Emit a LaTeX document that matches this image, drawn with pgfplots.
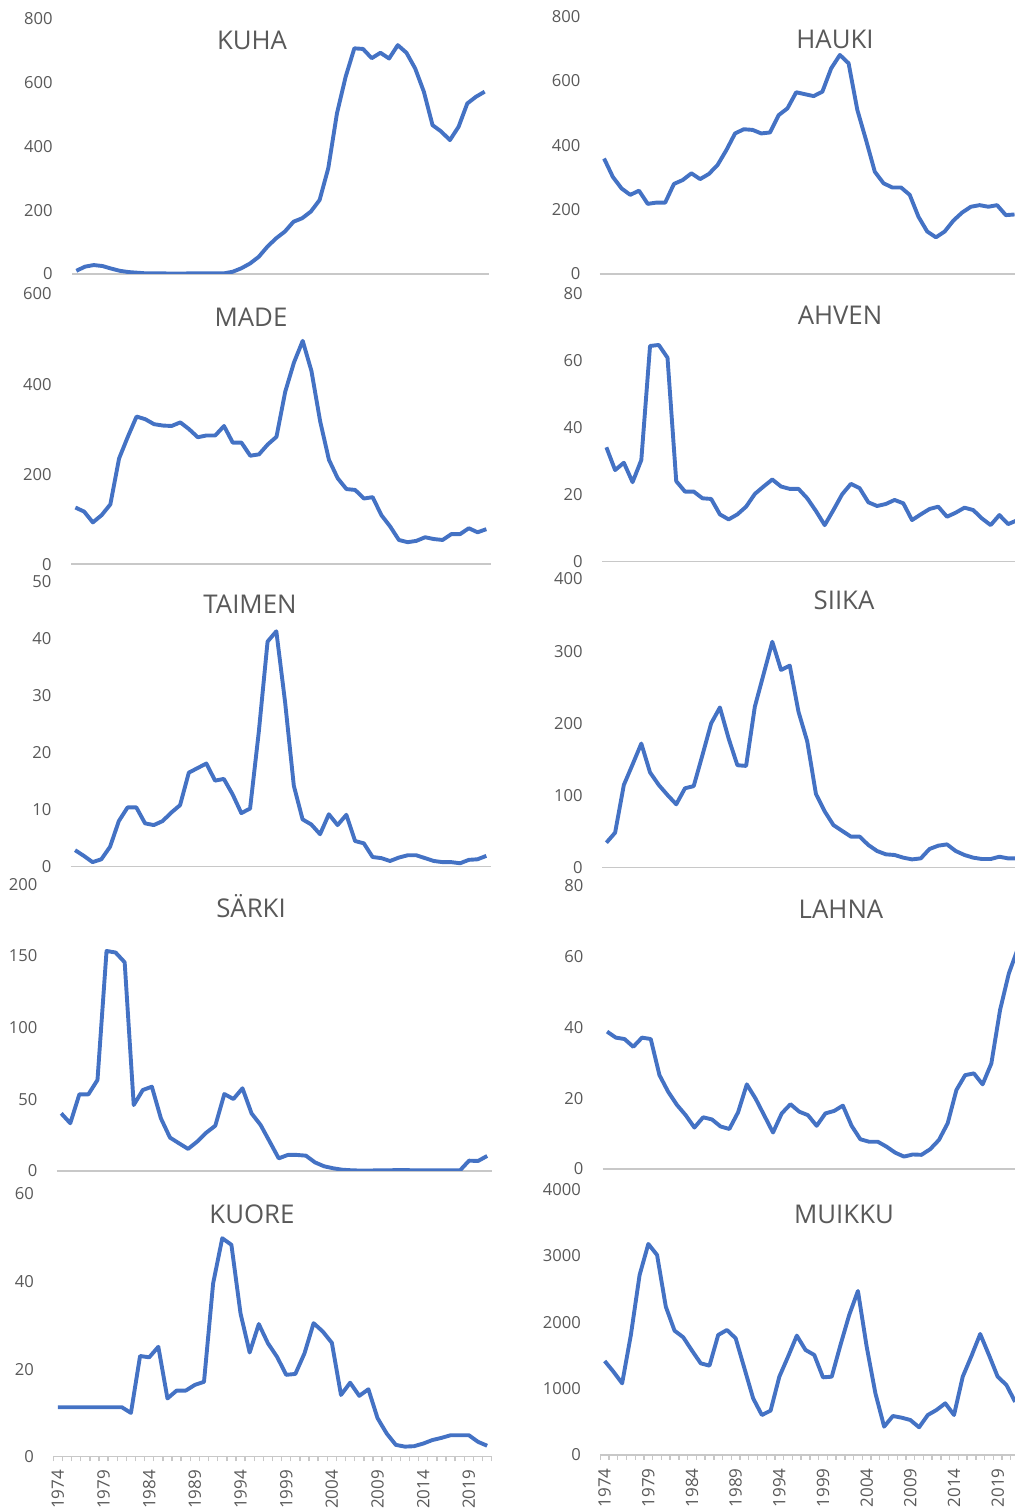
\documentclass[border=0pt]{standalone}
\usepackage{fontspec}
\setmainfont{Open Sans}
\usepackage{pgfplots}
\usepackage{pgfplotstable}
\pgfplotsset{compat=1.18}

\definecolor{fishblue}{HTML}{4472C4}
\definecolor{txtgray}{HTML}{595959}
\definecolor{axisgray}{HTML}{C8C8C8}

\newcommand\ticksize{\fontsize{8.3}{9.5}\selectfont}
\newcommand\yearsize{\fontsize{8.5}{9.5}\selectfont}
\newcommand\titlesize{\fontsize{12.9}{14}\selectfont}

% catch per year, 1974-2021
\pgfplotstableread{
year KUHA HAUKI MADE AHVEN TAIMEN SIIKA SARKI LAHNA KUORE MUIKKU
1974 10  359 126 34.1 2.9  34.6  40.2  38.8 11.3 1415
1975 23  302 117 27.3 1.9  48.5  33.3  37.1 11.3 1255
1976 28  266 93  29.5 0.8  114.6 53.5  36.7 11.3 1079
1977 25  246 109 23.7 1.3  143   53.5  34.5 11.3 1807
1978 17  259 133 30.3 3.5  172   63.5  37.1 11.3 2710
1979 10  218 235 64.3 8.0  132   153.5 36.7 11.3 3177
1980 6   222 283 64.6 10.4 114.6 152.4 26.5 11.3 3011
1981 4   222 328 60.8 10.4 100.7 145.6 21.8 11.3 2233
1982 2   280 322 24.0 7.6  87.8  46    18.1 10.0 1872
1983 2   292 311 20.9 7.3  110   56.5  15.2 23.0 1772
1984 2   313 308 20.9 8.0  113   58.8  11.7 22.7 1571
1985 1   295 307 18.9 9.5  156   36.7  14.6 25.1 1380
1986 1   311 315 18.7 10.8 200   23.3  14.0 13.3 1345
1987 2   339 300 14.1 16.5 222   19.3  12.0 15.1 1807
1988 2   385 282 12.6 17.3 179   15.4  11.3 15.1 1882
1989 2   437 286 14.1 18.1 142   20.5  16.0 16.4 1757
1990 2   450 286 16.4 15.1 141   26.7  23.9 17.1 1305
1991 2   448 307 20.2 15.4 223   31.6  19.9 39.6 853
1992 7   437 270 22.4 12.7 268   53.7  15.1 49.9 602
1993 18  440 270 24.5 9.4  313   50.2  10.3 48.4 668
1994 33  494 241 22.4 10.2 274   57.7  15.7 32.7 1179
1995 54  515 244 21.7 23.7 280   40.2  18.3 23.8 1481
1996 86  565 266 21.7 39.5 216   32.1  16.2 30.3 1797
1997 112 559 283 18.9 41.3 175   20.5  15.2 25.9 1581
1998 133 553 383 15.1 28.9 102   8.8   12.2 22.8 1506
1999 164 567 448 10.9 14.2 78    11.2  15.7 18.7 1169
2000 175 639 496 15.4 8.3  59    11.2  16.4 18.9 1179
2001 196 681 429 20.1 7.4  51    10.7  17.9 23.6 1656
2002 232 655 317 23.2 5.7  43    6.0   12.2 30.5 2108
2003 332 510 232 21.9 9.2  43    3.3   8.4  28.6 2469
2004 504 416 191 17.7 7.3  31.4  1.9   7.7  26.0 1631
2005 619 318 167 16.6 9.1  23.1  0.9   7.7  14.1 929
2006 708 282 165 17.2 4.5  18.5  0.5   6.3  16.9 427
2007 706 269 146 18.4 4.1  17.6  0.3   4.6  13.9 587
2008 677 269 149 17.4 1.7  13.9  0.3   3.5  15.4 562
2009 694 246 109 12.4 1.5  11.5  0.5   4.1  8.8  527
2010 676 178 84  14.1 1.0  12.9  0.5   4.0  5.3  417
2011 718 132 54  15.7 1.6  25.9  0.6   5.6  2.7  602
2012 694 114 49  16.4 2.0  30.5  0.6   8.2  2.3  678
2013 645 132 52  13.4 2.0  32.3  0.5   12.9 2.4  778
2014 572 166 60  14.6 1.5  23.1  0.5   22.3 3.0  602
2015 467 191 56  16.1 1.0  17.6  0.4   26.5 3.8  1179
2016 447 209 54  15.4 0.8  13.9  0.4   27.0 4.3  1491
2017 420 214 67  12.9 0.8  12    0.4   23.9 4.9  1822
2018 462 209 67  10.9 0.6  12    0.4   29.8 4.9  1506
2019 535 214 80  13.9 1.2  15.2  7.2   44.9 4.9  1179
2020 556 183 71  11.2 1.3  12.9  7.0   55.2 3.4  1054
2021 572 185 78  12.3 1.9  12.9  10.5  62   2.5  800
}\catch

\pgfplotsset{
  fishpanel/.style={
    scale only axis, anchor=south west,
    xmin=1973.5, xmax=2021.5, ymin=0,
    axis x line*=bottom, axis y line*=left,
    y axis line style={draw=none},
    x axis line style={-, draw=axisgray, line width=0.8pt},
    xtick=\empty,
    minor xtick={1973.5,1974.5,...,2021.5},
    tick align=outside,
    major tick length=0pt, minor tick length=2.4pt,
    minor tick style={draw=axisgray, line width=0.7pt},
    ytick style={draw=none},
    yticklabel style={font=\ticksize, text=txtgray, inner sep=0pt},
    yticklabel shift=9.5pt,
    /pgf/number format/1000 sep={},
    /pgf/number format/assume math mode=true,
    scaled y ticks=false,
  },
  yearaxis/.style={
    xtick={1974,1979,...,2019},
    xticklabel style={rotate=90, anchor=east, font=\yearsize, text=txtgray, inner sep=0pt},
    xticklabel shift=6.5pt,
  },
  fishline/.style={fishblue, line width=1.95pt, line join=round, no markers},
}

\begin{document}
\begin{tikzpicture}
\useasboundingbox (0,0) rectangle (507pt,754.5pt);

% left column
\begin{axis}[fishpanel, at={(36pt,617.5pt)}, width=208.5pt, height=127.5pt,
  ymax=800, ytick={0,200,...,800}]
  \addplot[fishline] table[x=year, y=KUHA] {\catch};
\end{axis}
\begin{axis}[fishpanel, at={(35.5pt,472.35pt)}, width=209.85pt, height=135.15pt,
  ymax=600, ytick={0,200,400,600}]
  \addplot[fishline] table[x=year, y=MADE] {\catch};
\end{axis}
\begin{axis}[fishpanel, at={(35.35pt,321.15pt)}, width=210pt, height=142.5pt,
  ymax=50, ytick={0,10,...,50}]
  \addplot[fishline] table[x=year, y=TAIMEN] {\catch};
\end{axis}
\begin{axis}[fishpanel, at={(28.35pt,169pt)}, width=217.5pt, height=143.35pt,
  ymax=200, ytick={0,50,...,200}]
  \addplot[fishline] table[x=year, y=SARKI] {\catch};
\end{axis}
\begin{axis}[fishpanel, yearaxis, at={(26.65pt,26.15pt)}, width=219.2pt, height=131.35pt,
  ymax=60, ytick={0,20,40,60}]
  \addplot[fishline] table[x=year, y=KUORE] {\catch};
\end{axis}

% right column
\begin{axis}[fishpanel, at={(299.85pt,617.5pt)}, width=209.6pt, height=128.65pt,
  ymax=800, ytick={0,200,...,800}]
  \addplot[fishline] table[x=year, y=HAUKI] {\catch};
\end{axis}
\begin{axis}[fishpanel, at={(301pt,473.65pt)}, width=209.6pt, height=134.2pt,
  ymax=80, ytick={0,20,...,80}]
  \addplot[fishline] table[x=year, y=AHVEN] {\catch};
\end{axis}
\begin{axis}[fishpanel, at={(301pt,320.65pt)}, width=209.6pt, height=144.35pt,
  ymax=400, ytick={0,100,...,400}]
  \addplot[fishline] table[x=year, y=SIIKA] {\catch};
\end{axis}
\begin{axis}[fishpanel, at={(301.35pt,170pt)}, width=209.6pt, height=141.65pt,
  ymax=80, ytick={0,20,...,80}]
  \addplot[fishline] table[x=year, y=LAHNA] {\catch};
\end{axis}
\begin{axis}[fishpanel, yearaxis, at={(300.15pt,27pt)}, width=209.6pt, height=132.85pt,
  ymax=4000, ytick={0,1000,...,4000}]
  \addplot[fishline] table[x=year, y=MUIKKU] {\catch};
\end{axis}

% panel titles
\begin{scope}[every node/.style={anchor=base, font=\titlesize, text=txtgray, inner sep=0pt}]
  \node at (126pt,729.5pt) {KUHA};
  \node at (417.5pt,730.35pt) {HAUKI};
  \node at (125.5pt,591.15pt) {MADE};
  \node at (420pt,592pt) {AHVEN};
  \node at (125pt,447.5pt) {TAIMEN};
  \node at (422pt,449.5pt) {SIIKA};
  \node at (125.5pt,295.85pt) {SÄRKI};
  \node at (420.5pt,295.35pt) {LAHNA};
  \node at (126pt,142.85pt) {KUORE};
  \node at (422pt,142.85pt) {MUIKKU};
\end{scope}
\end{tikzpicture}
\end{document}
